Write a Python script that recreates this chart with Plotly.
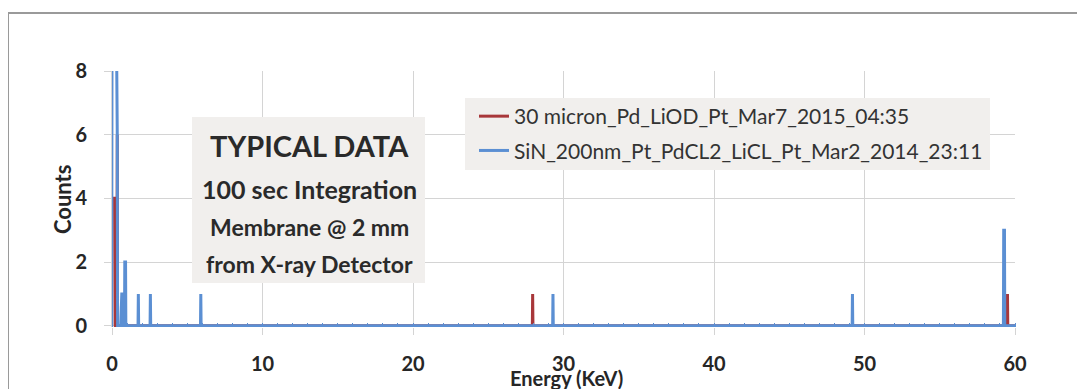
import plotly.graph_objects as go

# ---- data ----
red_name = "30 micron_Pd_LiOD_Pt_Mar7_2015_04:35"
red_energy = [0.00, 0.05, 0.10, 0.15, 0.20, 0.35, 27.95, 59.50]
red_counts = [4, 4, 4, 4, 4, 6, 1, 1]

blue_name = "SiN_200nm_Pt_PdCL2_LiCL_Pt_Mar2_2014_23:11"
blue_energy = [0.00, 0.05, 0.10, 0.15, 0.20, 0.25, 0.30, 0.35,
               0.60, 0.65, 0.70, 0.75, 0.85, 0.90, 1.75, 2.55, 5.90,
               29.30, 49.20, 59.25, 59.30]
blue_counts = [9, 9, 9, 9, 9, 9, 9, 6,
               1, 1, 1, 1, 2, 2, 1, 1, 1,
               1, 1, 3, 3]

x_ticks = [0, 10, 20, 30, 40, 50, 60]
y_ticks = [0, 2, 4, 6, 8]

note_lines = ["TYPICAL DATA", "100 sec Integration", "Membrane @ 2 mm", "from X-ray Detector"]


def spectrum(energy, counts, e_min=0.0, e_max=60.0, step=0.05):
    """Channel spectrum: zero everywhere except the listed channels."""
    xs, ys = [e_min], [0]
    for i, (e, c) in enumerate(zip(energy, counts)):
        prev_adj = i > 0 and abs(e - energy[i - 1]) <= step * 1.2
        next_adj = i < len(energy) - 1 and abs(energy[i + 1] - e) <= step * 1.2
        if not prev_adj:
            xs.append(e - 0.02); ys.append(0)
        xs.append(e); ys.append(c)
        if not next_adj:
            xs.append(e + 0.02); ys.append(0)
    xs.append(e_max); ys.append(0)
    return xs, ys


RED = "#a8373a"
BLUE = "#5b8fd3"

rx, ry = spectrum(red_energy, red_counts)
bx, by = spectrum(blue_energy, blue_counts)

fig = go.Figure()
fig.add_trace(go.Scatter(x=rx, y=ry, mode="lines", name=red_name,
                         line=dict(color=RED, width=3), legendgroup="a"))
fig.add_trace(go.Scatter(x=bx, y=by, mode="lines", name=blue_name,
                         line=dict(color=BLUE, width=3), legendgroup="b"))

OFF = 8  # page body margin
W, H = 1085 - OFF, 389 - OFF
# plot area in screen pixels
L, R, T, B = 112, 1015, 71, 327
pw, ph = R - L, B - T


def px(xpix):
    return (xpix - L) / pw


def py(ypix):
    return (B - ypix) / ph


GRID = "#d4d4d4"
TXT = "#262626"
fig.update_layout(
    width=W, height=H,
    margin=dict(l=L - OFF, r=1085 - R, t=T - OFF, b=389 - B, autoexpand=False),
    paper_bgcolor="white", plot_bgcolor="white",
    showlegend=True,
    legend=dict(x=px(474), y=py(96), xanchor="left", yanchor="top",
                bgcolor="rgba(0,0,0,0)", font=dict(family="Lato", size=21, color="#333333"),
                traceorder="grouped", tracegroupgap=4),
    xaxis=dict(range=[0, 60], tickvals=x_ticks, ticktext=[str(v) for v in x_ticks],
               showgrid=True, gridcolor=GRID, gridwidth=1, zeroline=False,
               ticks="outside", ticklen=7, tickcolor=GRID, ticklabelstandoff=12,
               minor=dict(dtick=1, ticks="inside", ticklen=4, tickcolor=BLUE, showgrid=False),
               tickfont=dict(family="Lato", size=20, weight="bold", color=TXT),
               showline=False),
    yaxis=dict(range=[-0.04, 8], tickvals=y_ticks, ticktext=[str(v) for v in y_ticks],
               showgrid=True, gridcolor=GRID, gridwidth=1, zeroline=False,
               ticks="outside", ticklen=7, tickcolor=GRID, ticklabelstandoff=13,
               tickfont=dict(family="Lato", size=20, weight="bold", color=TXT),
               showline=True, linecolor=GRID, linewidth=1),
)

BOX = "#f1efed"
fig.add_shape(type="rect", xref="paper", yref="paper",
              x0=px(465), x1=px(990), y0=py(170), y1=py(98),
              fillcolor=BOX, line=dict(width=0), layer="above")
fig.add_shape(type="rect", xref="paper", yref="paper",
              x0=px(192), x1=px(425), y0=py(283), y1=py(117),
              fillcolor=BOX, line=dict(width=0), layer="above")
# outer frame
fig.add_shape(type="line", xref="paper", yref="paper",
              x0=px(8), x1=px(1090), y0=py(13), y1=py(13),
              line=dict(color="#9a9a9a", width=2), layer="above")
fig.add_shape(type="line", xref="paper", yref="paper",
              x0=px(8), x1=px(8), y0=py(13), y1=py(395),
              line=dict(color="#9a9a9a", width=2), layer="above")

note_y = [145, 189, 227, 264]
note_size = [29, 25, 23, 23]
for txt, yy, sz in zip(note_lines, note_y, note_size):
    fig.add_annotation(text=txt, xref="paper", yref="paper", x=px(309), y=py(yy),
                       xanchor="center", yanchor="middle", showarrow=False,
                       font=dict(family="Lato", size=sz, weight="bold", color="#2a2a2a"))

fig.add_annotation(text="Energy (KeV)", xref="paper", yref="paper", x=px(566), y=py(378),
                   xanchor="center", yanchor="middle", showarrow=False,
                   font=dict(family="Lato", size=20, weight="bold", color=TXT))
fig.add_annotation(text="Counts", xref="paper", yref="paper", x=px(62), y=py(200),
                   xanchor="center", yanchor="middle", showarrow=False, textangle=-90,
                   font=dict(family="Lato", size=22, weight="bold", color=TXT))

fig.write_html("out.html")
